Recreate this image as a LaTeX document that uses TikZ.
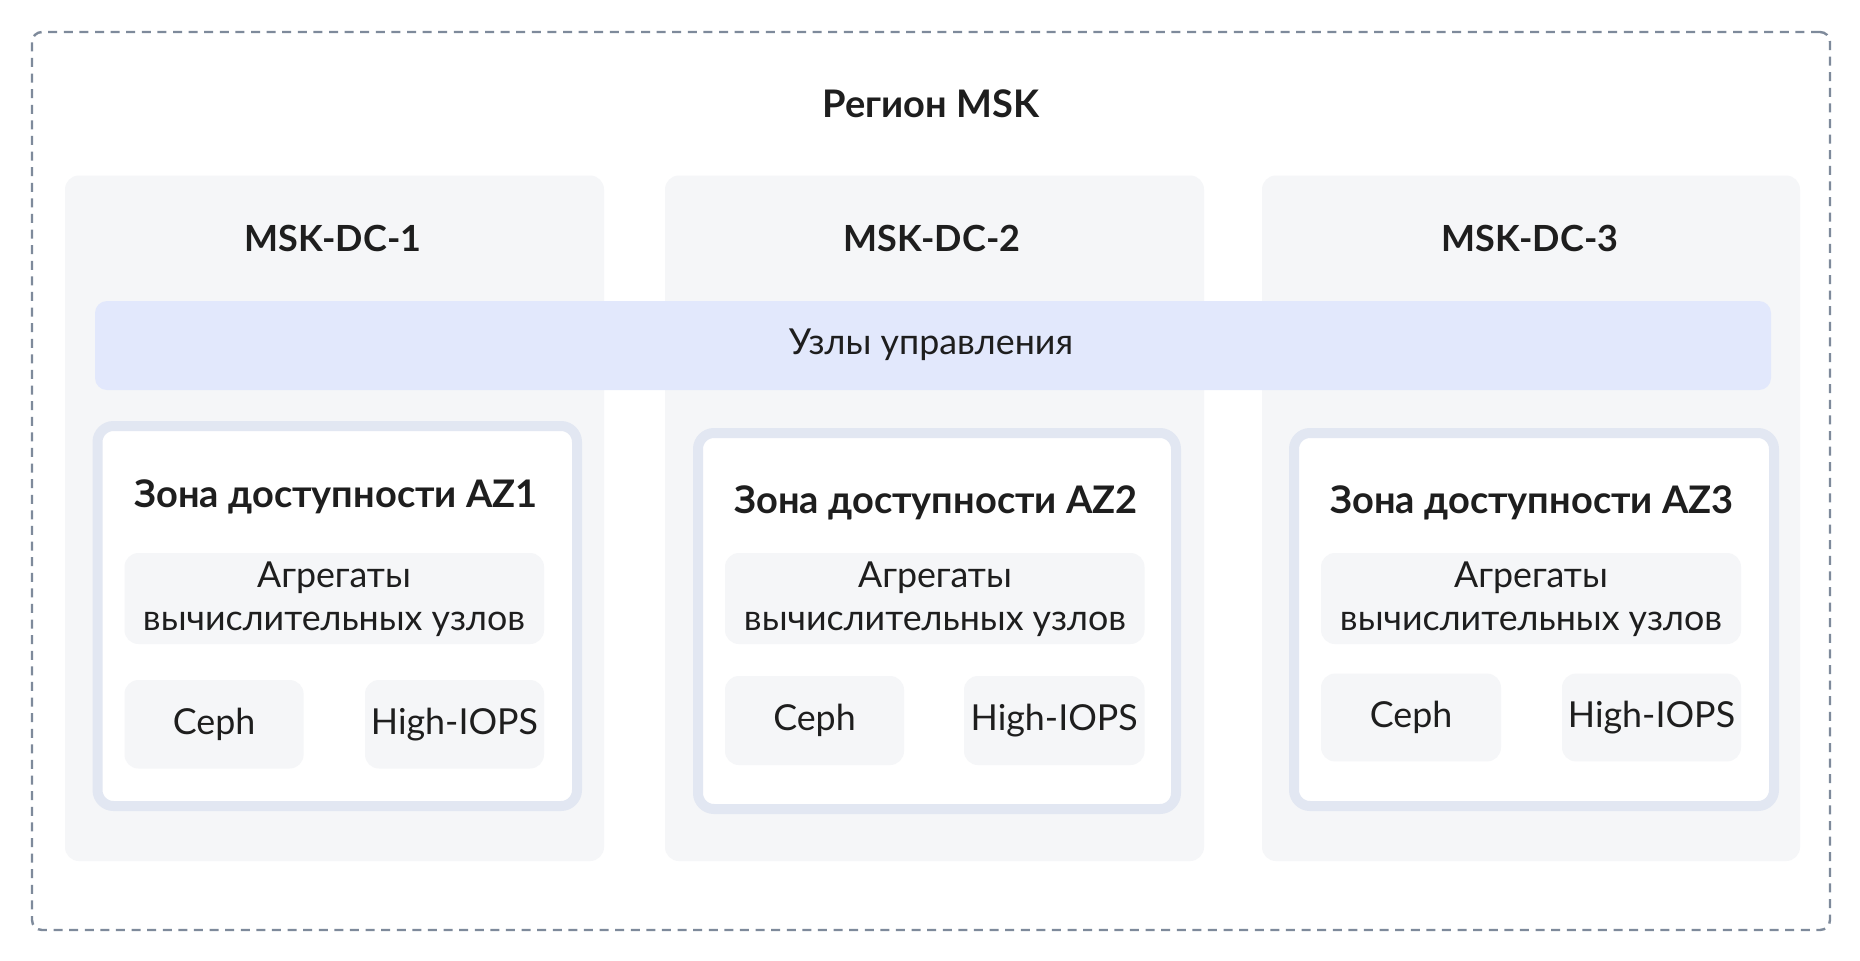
\documentclass[tikz,border=0pt]{standalone}
\usepackage{fontspec}
\setmainfont{Lato}
\usetikzlibrary{fit}
\definecolor{dashc}{HTML}{7E8A9B}
\definecolor{dcfill}{HTML}{F5F6F8}
\definecolor{bandfill}{HTML}{E2E8FC}
\definecolor{azline}{HTML}{E2E7F2}
\definecolor{txt}{HTML}{1E1E1E}
\tikzset{
  region/.style={draw=dashc, line width=1.2pt, dash pattern=on 4.5pt off 3.3pt, rounded corners=5pt, inner sep=0pt},
  dcbox/.style={fill=dcfill, draw=none, rounded corners=7pt, inner sep=0pt},
  band/.style={fill=bandfill, draw=none, rounded corners=6pt, inner sep=0pt},
  azbox/.style={fill=white, draw=azline, line width=5pt, rounded corners=8pt, inner sep=0pt},
  itembox/.style={fill=dcfill, draw=none, rounded corners=7pt, inner sep=0pt},
  ttl/.style={text=txt, font=\fontsize{19}{22}\selectfont\bfseries, inner sep=0pt},
  dcttl/.style={text=txt, font=\fontsize{18}{21}\selectfont\bfseries, inner sep=0pt},
  lbl/.style={text=txt, font=\fontsize{17.9}{21.5}\selectfont, inner sep=0pt, align=center},
}
\begin{document}
\begin{tikzpicture}[x=0.5pt,y=-0.5pt]
\useasboundingbox (0,0) rectangle (1860,960);
\fill[white] (0,0) rectangle (1860,960);
% region
\node[region, fit={(32,32) (1830,930)}] (reg) {};
\node[ttl] (regt) at (931,104) {Регион MSK};
% data centers
\node[dcbox, fit={(65,175.5) (604,861)}] (dc1) {};
\node[dcbox, fit={(665,175.5) (1204,861)}] (dc2) {};
\node[dcbox, fit={(1262,175.5) (1800,861)}] (dc3) {};
\node[dcttl] (dc1t) at (333,238) {MSK-DC-1};
\node[dcttl] (dc2t) at (932,238) {MSK-DC-2};
\node[dcttl] (dc3t) at (1530,238) {MSK-DC-3};
% control band
\node[band, fit={(95,301) (1771,390)}] (ctl) {};
\node[lbl] (ctlt) at (931,345) {Узлы управления};
% AZ boxes
\node[azbox, fit={(97.5,426) (577,806)}] (az1) {};
\node[azbox, fit={(698,433) (1176,809)}] (az2) {};
\node[azbox, fit={(1294,433) (1774,806)}] (az3) {};
\node[ttl] (az1t) at (336,497) {Зона доступности AZ1};
\node[ttl] (az2t) at (936,503) {Зона доступности AZ2};
\node[ttl] (az3t) at (1532,503) {Зона доступности AZ3};
% aggregates
\node[itembox, fit={(124.5,553) (544,644)}] (ag1) {};
\node[itembox, fit={(725,553) (1144.5,644)}] (ag2) {};
\node[itembox, fit={(1321,553) (1741,644)}] (ag3) {};
\node[lbl] (ag1t) at (334,599) {Агрегаты\\вычислительных узлов};
\node[lbl] (ag2t) at (935,599) {Агрегаты\\вычислительных узлов};
\node[lbl] (ag3t) at (1531,599) {Агрегаты\\вычислительных узлов};
% storage
\node[itembox, fit={(124.5,680) (303.6,768.5)}] (ce1) {};
\node[itembox, fit={(365,680) (544,768.5)}] (hi1) {};
\node[itembox, fit={(725,676) (904,765)}] (ce2) {};
\node[itembox, fit={(964,676) (1144.5,765)}] (hi2) {};
\node[itembox, fit={(1321,673.6) (1501,761.4)}] (ce3) {};
\node[itembox, fit={(1562,673.6) (1741,761.4)}] (hi3) {};
\node[lbl] (ce1t) at (ce1) {Ceph};
\node[lbl] (hi1t) at (hi1) {High-IOPS};
\node[lbl] (ce2t) at (ce2) {Ceph};
\node[lbl] (hi2t) at (hi2) {High-IOPS};
\node[lbl] (ce3t) at (ce3) {Ceph};
\node[lbl] (hi3t) at (hi3) {High-IOPS};
\end{tikzpicture}
\end{document}
